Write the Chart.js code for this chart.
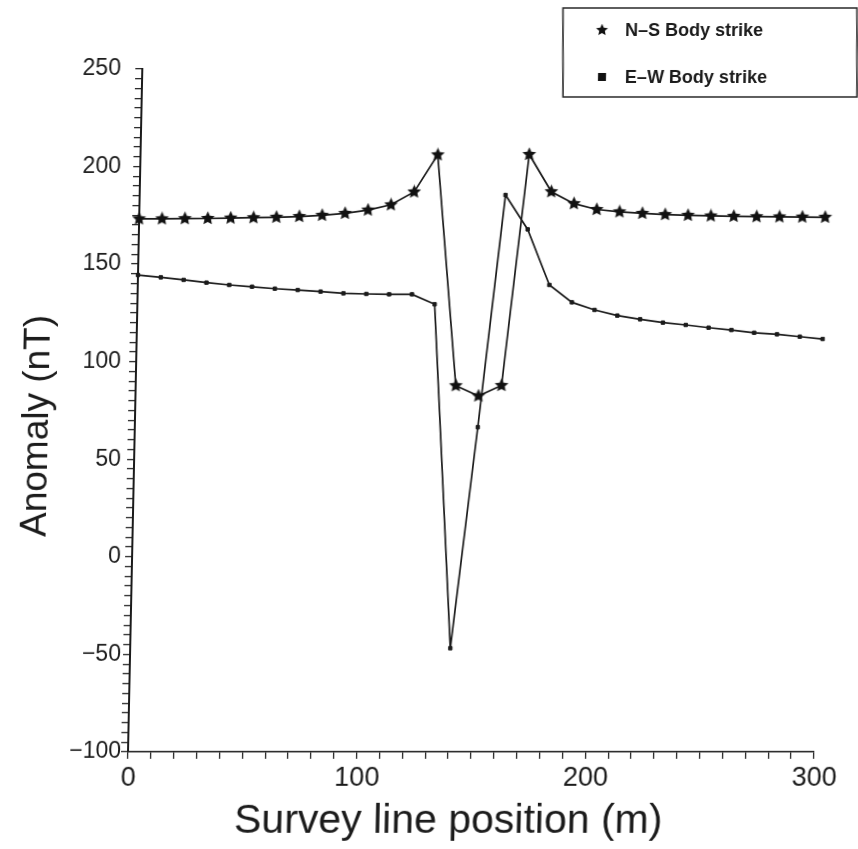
<!DOCTYPE html>
<html>
<head>
<meta charset="utf-8">
<script src="https://cdn.jsdelivr.net/npm/chart.js@4.4.1/dist/chart.umd.min.js"></script>
<style>
  html, body { margin: 0; padding: 0; background: #fff; }
  /* the whole figure leans slightly to the right towards the top */
  #plot { display: block; transform: skewX(-1.2deg); transform-origin: 0 752px; }
</style>
</head>
<body>
<canvas id="plot" width="858" height="849"></canvas>
<script>
// Survey positions along the line (m)
const positions = [0, 10, 20, 30, 40, 50, 60, 70, 80, 90, 100, 110, 120, 130, 140, 150,
                   160, 170, 180, 190, 200, 210, 220, 230, 240, 250, 260, 270, 280, 290, 300];

// Total-field anomaly (nT), body striking N-S
const nsStrike = [173.2, 173.2, 173.3, 173.4, 173.6, 173.8, 174.0, 174.4, 175.0, 176.0, 177.7,
                  180.4, 187.0, 206.0, 87.7, 82.4, 87.8, 206.2, 187.1, 181.0, 178.0, 176.8,
                  176.0, 175.4, 175.0, 174.7, 174.5, 174.3, 174.2, 174.1, 174.0];

// Total-field anomaly (nT), body striking E-W
const ewStrike = [144.4, 143.2, 141.9, 140.5, 139.3, 138.4, 137.4, 136.7, 135.9, 135.0, 134.7,
                  134.5, 134.5, 129.4, -46.9, 66.4, 185.4, 167.8, 139.3, 130.4, 126.5, 123.6,
                  121.7, 120.0, 118.8, 117.4, 116.2, 114.8, 114.0, 112.8, 111.6];

const seriesNames = ['N\u2013S Body strike', 'E\u2013W Body strike'];
const yTickLabels = [250, 200, 150, 100, 50, 0, -50, -100];
const xTickLabels = [0, 100, 200, 300];
const xTitle = 'Survey line position (m)';
const yTitle = 'Anomaly (nT)';

const INK = '#1b1b1b';
const SHEAR = Math.tan(1.2 * Math.PI / 180);
const BASE_Y = 752;
// text is kept upright: undo the lean of the canvas for a given row
const upright = (x, y) => x - SHEAR * (BASE_Y - y);

function makeStar(size, color) {
  const c = document.createElement('canvas');
  c.width = c.height = size;
  const g = c.getContext('2d');
  const r = size / 2, ro = r - 0.3, ri = ro * 0.47;
  g.beginPath();
  for (let i = 0; i < 10; i++) {
    const a = -Math.PI / 2 + i * Math.PI / 5;
    const rad = i % 2 ? ri : ro;
    g.lineTo(r + rad * Math.cos(a), r + rad * Math.sin(a));
  }
  g.closePath();
  g.fillStyle = color;
  g.fill();
  return c;
}
const starImg = makeStar(15, '#111');

const fmt = v => (v < 0 ? '\u2212' + Math.abs(v) : String(v));

const textPlugin = {
  id: 'figureText',
  afterDraw(chart) {
    const ctx = chart.ctx;
    const xs = chart.scales.x, ys = chart.scales.y;
    ctx.save();
    ctx.fillStyle = INK;

    // y tick labels
    ctx.font = '23px "Liberation Sans", Arial, sans-serif';
    ctx.textAlign = 'right';
    ctx.textBaseline = 'middle';
    yTickLabels.forEach(v => {
      const py = ys.getPixelForValue(v);
      ctx.fillText(fmt(v), upright(121, py), py);
    });

    // x tick labels
    ctx.font = '27px "Liberation Sans Narrow", "Liberation Sans", Arial, sans-serif';
    ctx.textAlign = 'center';
    ctx.textBaseline = 'alphabetic';
    xTickLabels.forEach(v => {
      const px = xs.getPixelForValue(v);
      ctx.fillText(fmt(v), upright(px, 786), 786);
    });

    // axis titles
    ctx.font = '41px "Liberation Sans", Arial, sans-serif';
    ctx.fillText(xTitle, upright(448, 833), 833);
    ctx.save();
    ctx.font = '37px "Liberation Sans", Arial, sans-serif';
    ctx.translate(upright(38, 426), 426);
    ctx.rotate(-Math.PI / 2);
    ctx.textBaseline = 'middle';
    ctx.fillText(yTitle, 0, 0);
    ctx.restore();

    // legend box
    ctx.strokeStyle = '#2a2a2a';
    ctx.lineWidth = 1.6;
    ctx.beginPath();
    ctx.moveTo(upright(563, 8), 8);
    ctx.lineTo(upright(857, 8), 8);
    ctx.lineTo(upright(857, 97), 97);
    ctx.lineTo(upright(563, 97), 97);
    ctx.closePath();
    ctx.stroke();

    ctx.font = 'bold 18px "Liberation Sans", Arial, sans-serif';
    ctx.textAlign = 'left';
    ctx.textBaseline = 'middle';
    const rows = [30, 77];
    ctx.drawImage(starImg, upright(602, rows[0]) - 6.5, rows[0] - 6.5, 13, 13);
    ctx.fillStyle = '#111';
    ctx.fillRect(upright(602, rows[1]) - 4, rows[1] - 4, 8, 8);
    ctx.fillStyle = INK;
    seriesNames.forEach((name, i) => {
      ctx.fillText(name, upright(625, rows[i]), rows[i] + 1);
    });
    ctx.restore();
  }
};

const toPoints = vals => positions.map((x, i) => ({ x, y: vals[i] }));

new Chart(document.getElementById('plot'), {
  type: 'line',
  data: {
    datasets: [
      {
        label: seriesNames[0],
        data: toPoints(nsStrike),
        borderColor: INK,
        borderWidth: 1.7,
        pointStyle: starImg,
        pointRadius: 7,
        tension: 0,
        clip: false
      },
      {
        label: seriesNames[1],
        data: toPoints(ewStrike),
        borderColor: INK,
        borderWidth: 1.7,
        pointStyle: 'rect',
        pointRadius: 2.4,
        pointBackgroundColor: INK,
        pointBorderColor: INK,
        pointBorderWidth: 1,
        tension: 0,
        clip: false
      }
    ]
  },
  options: {
    responsive: false,
    animation: false,
    devicePixelRatio: 1,
    layout: { padding: { top: 69, right: 44, bottom: 0, left: 0 } },
    plugins: { legend: { display: false }, tooltip: { enabled: false } },
    scales: {
      x: {
        type: 'linear',
        position: 'bottom',
        min: 0,
        max: 300,
        ticks: { display: false, stepSize: 10, autoSkip: false, maxTicksLimit: 200 },
        grid: { drawOnChartArea: false, drawTicks: true, tickLength: 7, color: '#2a2a2a', lineWidth: 1.3 },
        border: { display: true, color: INK, width: 1.6 },
        afterFit: s => { s.height = 97; }
      },
      y: {
        type: 'linear',
        position: 'left',
        min: -100,
        max: 250,
        ticks: { display: false, stepSize: 5, autoSkip: false, maxTicksLimit: 200 },
        grid: { drawOnChartArea: false, drawTicks: true, tickLength: 7, color: '#2a2a2a', lineWidth: 1.3 },
        border: { display: true, color: INK, width: 2 },
        afterFit: s => { s.width = 128; }
      }
    }
  },
  plugins: [textPlugin]
});
</script>
</body>
</html>
